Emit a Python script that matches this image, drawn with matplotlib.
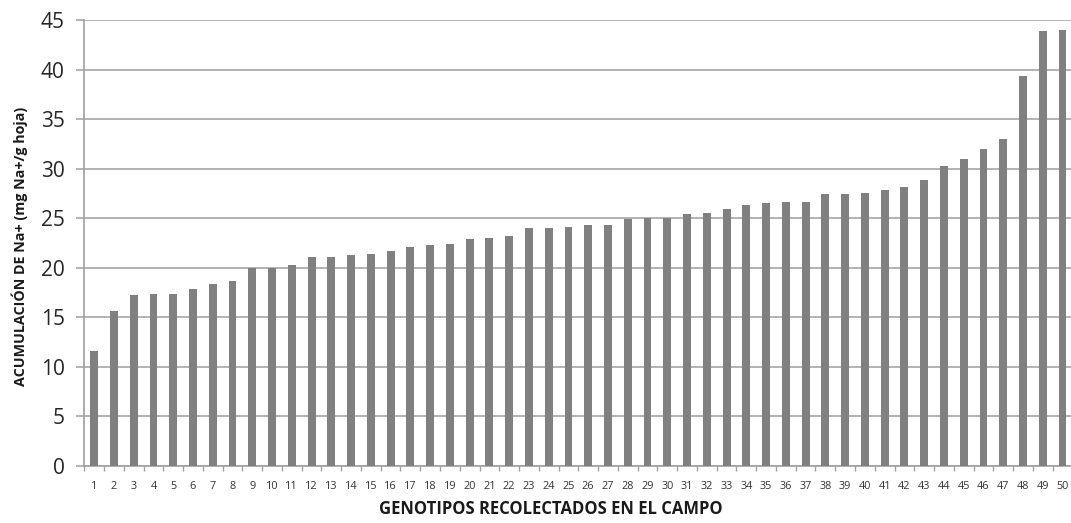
import matplotlib
matplotlib.use("Agg")
import matplotlib.pyplot as plt
from matplotlib.ticker import FixedLocator

plt.rcParams['font.family'] = ['Open Sans', 'DejaVu Sans']

# Genotype index and Na+ accumulation (mg Na+/g leaf), sorted ascending
genotipos = list(range(1, 51))
na_acumulado = [
    11.6, 15.6, 17.3, 17.4, 17.4, 17.9, 18.4, 18.7, 20.0, 20.0,
    20.3, 21.1, 21.1, 21.3, 21.4, 21.7, 22.1, 22.3, 22.4, 22.9,
    23.0, 23.2, 24.0, 24.0, 24.1, 24.3, 24.3, 24.9, 25.0, 25.0,
    25.4, 25.5, 25.9, 26.3, 26.5, 26.6, 26.6, 27.4, 27.4, 27.5,
    27.8, 28.1, 28.9, 30.3, 31.0, 32.0, 33.0, 39.4, 43.9, 44.0,
]
y_ticks = list(range(0, 50, 5))

W, H = 1071, 523
fig = plt.figure(figsize=(W / 100, H / 100), dpi=100)
left, right, top, bottom = 84.3, 1072.4, 20, 466
ax = fig.add_axes([left / W, 1 - bottom / H, (right - left) / W, (bottom - top) / H])

ax.bar(genotipos, na_acumulado, width=0.4, color='#808080', zorder=3)

ax.set_xlim(0.5, 50.5)
ax.set_ylim(0, 45)
ax.set_yticks(y_ticks)
ax.yaxis.grid(True, color='#a6a6a6', linewidth=1.2, zorder=0)
ax.set_axisbelow(True)

for s in ('top', 'right'):
    ax.spines[s].set_visible(False)
ax.spines['left'].set_color('#a0a0a0')
ax.spines['left'].set_linewidth(1.2)
ax.spines['bottom'].set_color('#a0a0a0')
ax.spines['bottom'].set_linewidth(1.2)

# y ticks and labels
ax.tick_params(axis='y', direction='out', length=6, width=1.1, color='#a0a0a0',
               labelsize=15, labelcolor='#262626', pad=8)

# x: labels at category centres, tick marks at category boundaries
ax.set_xticks(genotipos)
ax.set_xticklabels([str(g) for g in genotipos])
ax.tick_params(axis='x', which='major', length=0, labelsize=7.8,
               labelcolor='#333333', pad=11)
ax.xaxis.set_minor_locator(FixedLocator([g + 0.5 for g in range(0, 51)]))
ax.tick_params(axis='x', which='minor', direction='out', length=3.5, width=1.0,
               color='#a0a0a0')

fig.text(551 / W, 1 - 508.5 / H, 'GENOTIPOS RECOLECTADOS EN EL CAMPO',
         ha='center', va='center', fontsize=12, fontweight='bold', color='#1a1a1a')
fig.text(19.5 / W, 1 - 246.5 / H, 'ACUMULACIÓN DE Na+ (mg Na+/g hoja)',
         ha='center', va='center', rotation=90, fontsize=10.3, fontweight='bold',
         color='#1a1a1a')

fig.savefig('out.png', dpi=100, facecolor='white')
